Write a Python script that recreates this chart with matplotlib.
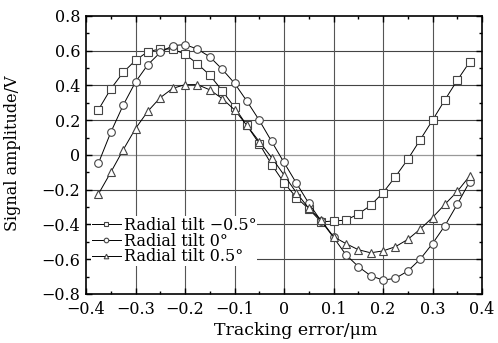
import numpy as np
import matplotlib.pyplot as plt
from matplotlib.ticker import MultipleLocator

plt.rcParams['font.family'] = ['DejaVu Serif']
plt.rcParams['mathtext.fontset'] = 'dejavuserif'

# tracking error [um]
track = [-0.375, -0.35, -0.325, -0.3, -0.275, -0.25, -0.225, -0.2, -0.175, -0.15,
         -0.125, -0.1, -0.075, -0.05, -0.025, 0.0, 0.025, 0.05, 0.075, 0.1,
         0.125, 0.15, 0.175, 0.2, 0.225, 0.25, 0.275, 0.3, 0.325, 0.35, 0.375]

# signal amplitude [V]
tilt_m05 = [0.26, 0.38, 0.475, 0.545, 0.595, 0.61, 0.61, 0.58, 0.525, 0.46,
            0.37, 0.275, 0.17, 0.065, -0.055, -0.16, -0.245, -0.31, -0.385, -0.38,
            -0.375, -0.34, -0.29, -0.217, -0.125, -0.025, 0.087, 0.2, 0.317, 0.43, 0.535]
tilt_0 = [-0.048, 0.13, 0.286, 0.42, 0.52, 0.59, 0.63, 0.635, 0.61, 0.565,
          0.494, 0.413, 0.31, 0.2, 0.078, -0.043, -0.162, -0.278, -0.38, -0.474,
          -0.574, -0.642, -0.695, -0.72, -0.71, -0.668, -0.6, -0.51, -0.407, -0.284, -0.154]
tilt_p05 = [-0.225, -0.1, 0.029, 0.152, 0.252, 0.33, 0.383, 0.405, 0.405, 0.375,
            0.325, 0.26, 0.17, 0.077, -0.015, -0.115, -0.217, -0.307, -0.375, -0.47,
            -0.51, -0.545, -0.563, -0.552, -0.528, -0.486, -0.427, -0.36, -0.284, -0.21, -0.121]

labels = ['Radial tilt \u22120.5\u00b0', 'Radial tilt 0\u00b0', 'Radial tilt 0.5\u00b0']

fig = plt.figure(figsize=(4.98, 3.43), dpi=100)
ax = fig.add_axes([0.1727, 0.1429, 0.7952, 0.8105])

# grid
for yv in [-0.6, -0.4, -0.2, 0.2, 0.4, 0.6]:
    ax.axhline(yv, color='#444444', lw=0.8, zorder=1)
ax.axhline(0, color='#999999', lw=0.9, zorder=1)
for xv in [-0.3, -0.2, -0.1, 0.0, 0.1, 0.2, 0.3]:
    ax.axvline(xv, color='#555555', lw=0.8, zorder=1)

mk = dict(color='black', lw=0.7, markersize=5.5, markerfacecolor='white',
          markeredgecolor='#444444', markeredgewidth=0.8)
ax.plot(track, tilt_m05, marker='s', label=labels[0], zorder=3, **mk)
ax.plot(track, tilt_0, marker='o', label=labels[1], zorder=3, **mk)
ax.plot(track, tilt_p05, marker='^', label=labels[2], zorder=3, **mk)

ax.set_xlim(-0.4, 0.4)
ax.set_ylim(-0.8, 0.8)
ax.xaxis.set_major_locator(MultipleLocator(0.1))
ax.xaxis.set_minor_locator(MultipleLocator(0.05))
ax.yaxis.set_major_locator(MultipleLocator(0.2))
ax.yaxis.set_minor_locator(MultipleLocator(0.1))
ax.tick_params(which='both', direction='in', top=True, right=True, width=1.0, labelsize=11.5, pad=4)
ax.tick_params(which='major', length=4)
ax.tick_params(which='minor', length=2)
ax.set_xticks([-0.4, -0.3, -0.2, -0.1, 0, 0.1, 0.2, 0.3, 0.4])
ax.set_xticklabels(['\u22120.4', '\u22120.3', '\u22120.2', '\u22120.1', '0', '0.1', '0.2', '0.3', '0.4'])
ax.set_yticks([-0.8, -0.6, -0.4, -0.2, 0, 0.2, 0.4, 0.6, 0.8])
ax.set_yticklabels(['\u22120.8', '\u22120.6', '\u22120.4', '\u22120.2', '0', '0.2', '0.4', '0.6', '0.8'])
ax.tick_params(axis='x', pad=5)
for s in ax.spines.values():
    s.set_linewidth(1.2)

ax.set_xlabel('Tracking error/\u03bcm', fontsize=12.5, labelpad=0)
ax.xaxis.set_label_coords(0.53, -0.1)
ax.set_ylabel('Signal amplitude/V', fontsize=11.5)
ax.yaxis.set_label_coords(-0.165, 0.505)

leg = ax.legend(loc='upper left', bbox_to_anchor=(0.013, 0.28), fontsize=11.5,
                frameon=True, framealpha=1, edgecolor='none', fancybox=False,
                borderpad=0.05, borderaxespad=0, handlelength=1.8, handletextpad=0.2,
                labelspacing=-0.08, markerscale=0.6)
leg.set_zorder(2)

plt.savefig('out.png', dpi=100)
